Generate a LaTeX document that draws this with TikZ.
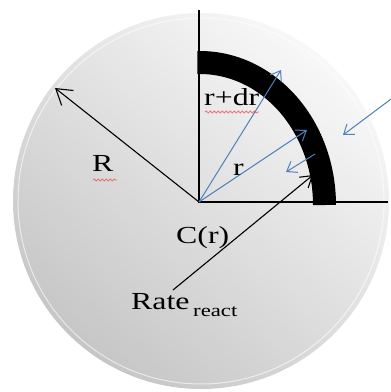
\documentclass[tikz,border=0pt]{standalone}
\usepackage{fontspec}
\setmainfont{Liberation Serif}
\usetikzlibrary{arrows.meta,decorations.pathmorphing}
\definecolor{myblue}{RGB}{79,129,189}
\definecolor{disklight}{RGB}{248,248,248}
\definecolor{diskmid}{RGB}{228,228,228}
\definecolor{diskdark}{RGB}{198,198,198}
\definecolor{squig}{RGB}{235,90,90}
\tikzset{
  lbl/.style={inner sep=0pt, anchor=base west, font=\fontsize{24.5}{26}\selectfont},
  sublbl/.style={inner sep=0pt, anchor=base west, font=\fontsize{17.5}{19}\selectfont},
  blk/.style={draw=black, line width=1.1pt, -{Straight Barb[length=11pt,width=14pt]}},
  blu/.style={draw=myblue, line width=1pt, -{Straight Barb[length=9pt,width=13pt]}},
  axis/.style={draw=black, line width=1.1pt},
  squiggle/.style={draw=squig, line width=0.8pt, opacity=0.8, decorate, decoration={snake, amplitude=1.1pt, segment length=4pt}}
}
\begin{document}
\begin{tikzpicture}[x=1pt,y=-1pt]
\useasboundingbox (0,0) rectangle (391,392);
\fill[white] (0,0) rectangle (391,392);
% disk
\coordinate (O) at (199,202);
\shade[top color=disklight, middle color=diskmid, bottom color=diskdark, shading angle=-40] (201,201) circle[radius=188];
\draw[white, opacity=0.6, line width=1pt] (201,201) circle[radius=183];
% axes
\coordinate (vtop) at (199,10);
\coordinate (hend) at (388,202);
\draw[axis] (vtop) -- (O) -- (hend);
% black thick arc
\draw[black, line width=23pt] (324.5,205) arc[start angle=0, end angle=-91.2, x radius=124.5, y radius=142.5];
% R arrow
\coordinate (Rtip) at (55,88);
\draw[blk, -{Straight Barb[length=15pt,width=19pt]}] (O) -- (Rtip);
% Rate arrow
\coordinate (rs) at (173,290);
\coordinate (rt) at (313,175);
\draw[blk] (rs) -- (rt);
% blue arrows
\coordinate (b1) at (281,70);
\coordinate (b2) at (307,130);
\coordinate (b3s) at (315,154);
\coordinate (b3t) at (286,172);
\coordinate (b4s) at (391,99);
\coordinate (b4t) at (343,135);
\draw[blu] (O) -- (b1);
\draw[blu] (O) -- (b2);
\draw[blu] (b3s) -- (b3t);
\draw[blu] (b4s) -- (b4t);
% labels
\node[lbl] (lR) at (92,171) {\scalebox{1.3}[1]{R}};
\node[lbl] (lrdr) at (204,105) {\scalebox{1.3}[1]{r+dr}};
\node[lbl] (lr) at (233,175) {\scalebox{1.3}[1]{r}};
\node[lbl] (lC) at (176,243) {\scalebox{1.3}[1]{C(r)}};
\node[lbl] (lRate) at (131,309) {\scalebox{1.3}[1]{Rate}};
\node[sublbl] (lreact) at (193,316) {\scalebox{1.3}[1]{react}};
% spell-check squiggles
\coordinate (sq1a) at (93,180);
\coordinate (sq1b) at (117,180);
\coordinate (sq2a) at (205,112);
\coordinate (sq2b) at (259,112);
\draw[squiggle] (sq1a) -- (sq1b);
\draw[squiggle] (sq2a) -- (sq2b);
\end{tikzpicture}
\end{document}
